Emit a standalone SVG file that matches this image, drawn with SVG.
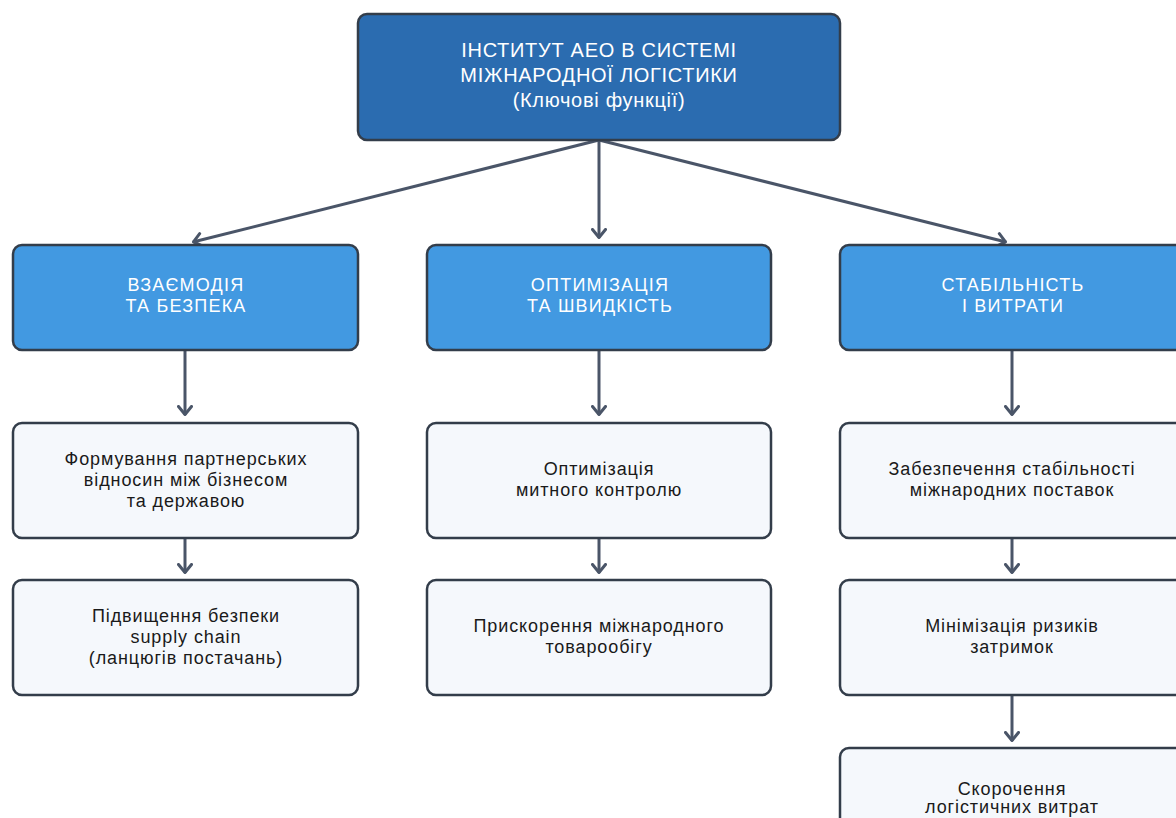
<svg xmlns="http://www.w3.org/2000/svg" width="1176" height="818" viewBox="0 0 1176 818">
<style>
.box{stroke:#333d4a;stroke-width:2.5}
.top{fill:#2b6cb0}
.cat{fill:#4299e1}
.leaf{fill:#f5f8fc}
.t{font-family:"Liberation Sans",Arial,sans-serif;text-anchor:middle;dominant-baseline:central}
.tw{fill:#ffffff;font-size:20px;letter-spacing:0.7px}
.tc{fill:#ffffff;font-size:18px;letter-spacing:1.2px}
.tl{fill:#1a1a1a;font-size:18px;letter-spacing:0.9px}
.conn{stroke:#4a5568;stroke-width:3;fill:none;marker-end:url(#ah)}
</style>
<defs>
<marker id="ah" viewBox="0 0 12 16" refX="10.5" refY="8" markerWidth="12" markerHeight="16" orient="auto" markerUnits="userSpaceOnUse">
<path d="M2,1.5 L10,8 L2,14.5" fill="none" stroke="#4a5568" stroke-width="3" stroke-linecap="round" stroke-linejoin="round"/>
</marker>
</defs>
<rect width="1176" height="818" fill="#ffffff"/>
<g id="connectors">
<line class="conn" x1="599" y1="140" x2="193" y2="242"/>
<line class="conn" x1="599" y1="140" x2="599" y2="238"/>
<line class="conn" x1="599" y1="140" x2="1006" y2="242"/>
<line class="conn" x1="185" y1="350" x2="185" y2="415"/>
<line class="conn" x1="185" y1="538" x2="185" y2="573"/>
<line class="conn" x1="599" y1="350" x2="599" y2="415"/>
<line class="conn" x1="599" y1="538" x2="599" y2="573"/>
<line class="conn" x1="1012" y1="350" x2="1012" y2="415"/>
<line class="conn" x1="1012" y1="538" x2="1012" y2="573"/>
<line class="conn" x1="1012" y1="695" x2="1012" y2="741"/>
</g>
<g id="root">
<rect class="box top" x="358" y="14" width="482" height="126" rx="9"/>
<text class="t tw" x="599" y="50">ІНСТИТУТ АЕО В СИСТЕМІ</text>
<text class="t tw" x="599" y="75">МІЖНАРОДНОЇ ЛОГІСТИКИ</text>
<text class="t tw" x="599" y="100">(Ключові функції)</text>
</g>
<g id="cat1">
<rect class="box cat" x="13" y="245" width="345" height="105" rx="9"/>
<text class="t tc" x="186" y="285">ВЗАЄМОДІЯ</text>
<text class="t tc" x="186" y="306">ТА БЕЗПЕКА</text>
</g>
<g id="cat2">
<rect class="box cat" x="427" y="245" width="344" height="105" rx="9"/>
<text class="t tc" x="600" y="285">ОПТИМІЗАЦІЯ</text>
<text class="t tc" x="600" y="306">ТА ШВИДКІСТЬ</text>
</g>
<g id="cat3">
<rect class="box cat" x="840" y="245" width="345" height="105" rx="9"/>
<text class="t tc" x="1013" y="285">СТАБІЛЬНІСТЬ</text>
<text class="t tc" x="1013" y="306">І ВИТРАТИ</text>
</g>
<g id="n1a">
<rect class="box leaf" x="13" y="423" width="345" height="115" rx="9"/>
<text class="t tl" x="186" y="459">Формування партнерських</text>
<text class="t tl" x="186" y="480">відносин між бізнесом</text>
<text class="t tl" x="186" y="501">та державою</text>
</g>
<g id="n1b">
<rect class="box leaf" x="13" y="580" width="345" height="115" rx="9"/>
<text class="t tl" x="186" y="616">Підвищення безпеки</text>
<text class="t tl" x="186" y="637">supply chain</text>
<text class="t tl" x="186" y="658">(ланцюгів постачань)</text>
</g>
<g id="n2a">
<rect class="box leaf" x="427" y="423" width="344" height="115" rx="9"/>
<text class="t tl" x="599" y="469">Оптимізація</text>
<text class="t tl" x="599" y="490">митного контролю</text>
</g>
<g id="n2b">
<rect class="box leaf" x="427" y="580" width="344" height="115" rx="9"/>
<text class="t tl" x="599" y="626">Прискорення міжнародного</text>
<text class="t tl" x="599" y="647">товарообігу</text>
</g>
<g id="n3a">
<rect class="box leaf" x="840" y="423" width="345" height="115" rx="9"/>
<text class="t tl" x="1012" y="469">Забезпечення стабільності</text>
<text class="t tl" x="1012" y="490">міжнародних поставок</text>
</g>
<g id="n3b">
<rect class="box leaf" x="840" y="580" width="345" height="115" rx="9"/>
<text class="t tl" x="1012" y="626">Мінімізація ризиків</text>
<text class="t tl" x="1012" y="647">затримок</text>
</g>
<g id="n3c">
<rect class="box leaf" x="840" y="748" width="345" height="105" rx="9"/>
<text class="t tl" x="1012" y="789">Скорочення</text>
<text class="t tl" x="1012" y="807">логістичних витрат</text>
</g>
</svg>
